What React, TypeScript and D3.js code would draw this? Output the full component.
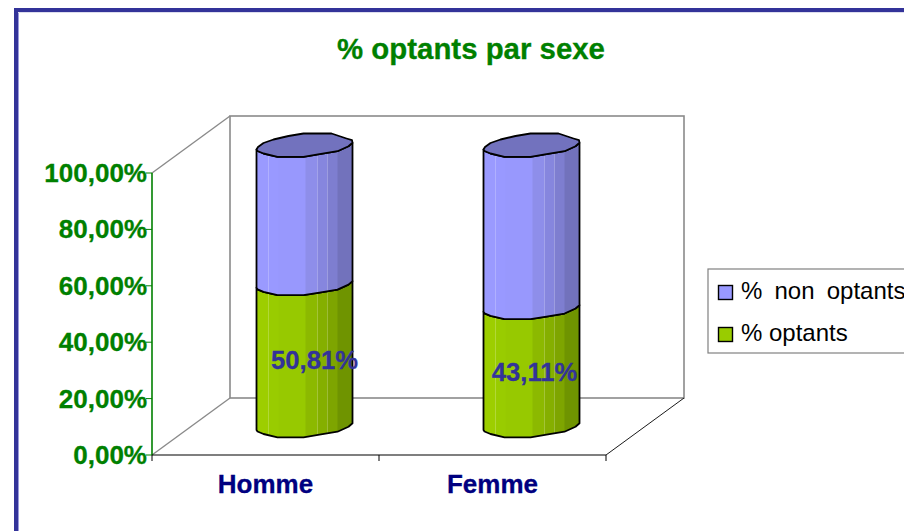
import React from "react";
import * as d3 from "d3";

const categories = ["Homme", "Femme"];
const optants = [50.4, 41.9];
const optantLabels = ["50,81%", "43,11%"];
const tickValues = [0, 20, 40, 60, 80, 100];
const tickLabels = ["0,00%", "20,00%", "40,00%", "60,00%", "80,00%", "100,00%"];
const legendLabels = ["% non optants", "% optants"];
const labelShift = [10, 3];

const W = 904, H = 531;
const y = d3.scaleLinear().domain([0, 100]).range([455, 173]);
const x = d3.scaleBand<string>().domain(categories).range([152, 606]);
const depthX = 78, depthY = -57;
const cylW = 96;

// outline of the faceted cylinder ellipse, relative to its left point
const frontProfile: [number, number][] = [[0, 0], [1, 1.5], [7, 4], [21, 7.3], [47, 7.3], [63, 4.7], [81, 1.7], [92, -3.3], [96, -6.7]];
const backProfile: [number, number][] = [[96, -6.7], [95.5, -9.3], [90, -11], [75, -16], [47, -16], [32, -13.5], [17, -10], [7, -6.5], [1.5, -2.5], [0, 0]];

const line = d3.line();
const shift = (pts: [number, number][], dx: number, dy: number) => pts.map(([a, b]) => [a + dx, b + dy] as [number, number]);

const bands = [0, 12, 22, 49, 61, 71, 81, 96];
const blueBands = ["#9A9AFF", "#9999FF", "#9898FD", "#8E8EEA", "#8686DE", "#7E7ED0", "#7272BC"];
const greenBands = ["#9DCE00", "#99CC00", "#97C900", "#8CB900", "#85AF00", "#7EA500", "#6F9400"];

function Segment({ left, top, bottom, colors, id }: { left: number; top: number; bottom: number; colors: string[]; id: string }) {
  const outline = [
    ...shift(frontProfile, left, bottom),
    ...shift([...frontProfile].reverse(), left, top),
  ];
  return (
    <g>
      <clipPath id={id}><path d={line(outline) + "Z"} /></clipPath>
      <g clipPath={`url(#${id})`}>
        {colors.map((c, i) => (
          <rect key={i} x={left + bands[i]} y={top - 20} width={bands[i + 1] - bands[i] + 0.5} height={bottom - top + 40} fill={c} />
        ))}
        {[12, 61, 71].map((b) => (
          <line key={b} x1={left + b} x2={left + b} y1={top - 20} y2={bottom + 20} stroke="#fff" strokeOpacity={0.22} strokeWidth={1} />
        ))}
      </g>
      <path d={line(outline) + "Z"} fill="none" stroke="#000" strokeWidth={1.8} strokeLinejoin="round" />
    </g>
  );
}

const font = "'Liberation Sans', Arial, sans-serif";

export default function App() {
  const h0 = y(0) - 25;
  return (
    <svg width={W} height={H} viewBox={`0 0 ${W} ${H}`} style={{ position: "absolute", left: 0, top: 0, background: "#fff" }} fontFamily={font}>
      {/* frame */}
      <path d={`M16 ${H}V10H${W}`} fill="none" stroke="#333399" strokeWidth={4} />
      <line x1={18.5} x2={18.5} y1={12} y2={H} stroke="#9999dd" strokeWidth={1} />
      <line x1={18} x2={W} y1={12.5} y2={12.5} stroke="#ddddee" strokeWidth={1} />

      <text x={471} y={59} textAnchor="middle" fontSize={29.4} fontWeight="bold" fill="#008000" stroke="#008000" strokeWidth={0.3}>% optants par sexe</text>

      {/* walls */}
      <rect x={152 + depthX} y={173 + depthY} width={454} height={282} fill="#fff" stroke="#8a8a8a" strokeWidth={1.6} />
      <line x1={152} y1={y(100)} x2={152 + depthX} y2={y(100) + depthY} stroke="#8a8a8a" strokeWidth={1.4} />
      <line x1={152} y1={y(0)} x2={152 + depthX} y2={y(0) + depthY} stroke="#8a8a8a" strokeWidth={1.4} />
      <line x1={606} y1={y(0)} x2={606 + depthX} y2={y(0) + depthY} stroke="#000" strokeWidth={0.9} />

      {/* axes */}
      <line x1={152} x2={152} y1={y(100)} y2={y(0)} stroke="#008000" strokeWidth={1.6} />
      {tickValues.map((t, i) => (
        <g key={t}>
          <line x1={146} x2={152} y1={y(t)} y2={y(t)} stroke="#008000" strokeWidth={1} />
          <text x={147} y={y(t) + 9} textAnchor="end" fontSize={26} fontWeight="bold" fill="#008000" stroke="#008000" strokeWidth={0.3}>{tickLabels[i]}</text>
        </g>
      ))}
      <line x1={152} x2={606} y1={y(0)} y2={y(0)} stroke="#000" strokeWidth={1.2} />
      {[152, (152 + 606) / 2, 606].map((v) => (
        <line key={v} x1={v} x2={v} y1={455} y2={461} stroke="#000" strokeWidth={1} />
      ))}

      {/* cylinders */}
      {categories.map((c, i) => {
        const cx = (x(c) as number) + x.bandwidth() / 2 + depthX / 2;
        const left = cx - cylW / 2;
        const split = h0 - (y(0) - y(optants[i]));
        const top = h0 - (y(0) - y(100)) + 1.5;
        const cap = [...shift(frontProfile, left, top), ...shift(backProfile, left, top)];
        return (
          <g key={c}>
            <Segment id={`g${i}`} left={left} top={split} bottom={h0} colors={greenBands} />
            <Segment id={`b${i}`} left={left} top={top} bottom={split} colors={blueBands} />
            <path d={line(cap) + "Z"} fill="#7272BE" stroke="#000" strokeWidth={1.8} strokeLinejoin="round" />
            <text x={cx + labelShift[i]} y={(h0 + split) / 2 + 10} textAnchor="middle" fontSize={25.6} fontWeight="bold" fill="#333399" stroke="#333399" strokeWidth={0.3}>{optantLabels[i]}</text>
            <text x={(x(c) as number) + x.bandwidth() / 2} y={493} textAnchor="middle" fontSize={26} fontWeight="bold" fill="#000080" stroke="#000080" strokeWidth={0.3}>{c}</text>
          </g>
        );
      })}

      {/* legend */}
      <rect x={708} y={269} width={240} height={84} fill="#fff" stroke="#808080" strokeWidth={1.2} />
      {legendLabels.map((l, i) => (
        <g key={l}>
          <rect x={718.5} y={285.5 + i * 42} width={14} height={14} fill={i === 0 ? "#9999FF" : "#99CC00"} stroke="#000" strokeWidth={1.4} />
          <text x={741} y={299 + i * 41.5} fontSize={24} fill="#000" wordSpacing={i === 0 ? 5.5 : 0}>{l}</text>
        </g>
      ))}
    </svg>
  );
}
